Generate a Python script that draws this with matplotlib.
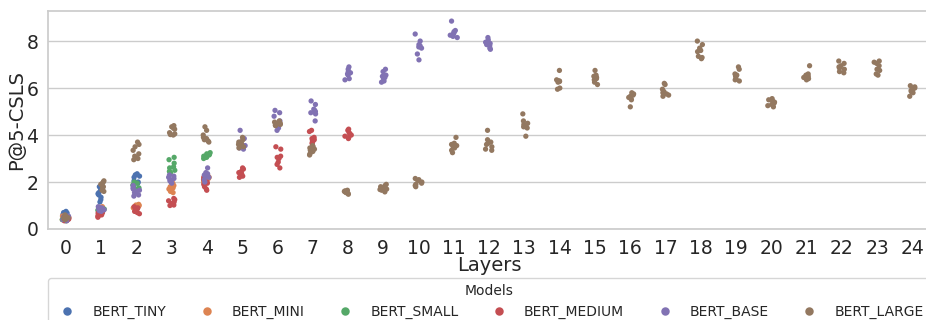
import numpy as np
import pandas as pd
import matplotlib
matplotlib.use("Agg")
import matplotlib.pyplot as plt
import seaborn as sns

models = ["BERT_TINY", "BERT_MINI", "BERT_SMALL", "BERT_MEDIUM", "BERT_BASE", "BERT_LARGE"]

# P@5-CSLS per layer, several runs per layer
bert_tiny = [
    [0.75, 0.68, 0.6, 0.55, 0.5, 0.45, 0.62, 0.7],
    [1.8, 1.7, 1.55, 1.45, 1.35, 1.5, 1.25, 1.15],
    [2.35, 2.3, 2.32, 2.2, 2.05, 1.95, 2.0, 2.25],
]
bert_mini = [
    [0.55, 0.45, 0.4, 0.5, 0.38, 0.48, 0.42, 0.52],
    [0.95, 0.85, 0.9, 0.8, 0.88, 0.75, 0.92, 0.82],
    [1.05, 0.98, 0.9, 0.85, 1.0, 0.95, 0.88, 1.02],
    [1.95, 1.85, 1.75, 1.6, 1.55, 1.7, 1.8, 1.65],
    [2.25, 2.2, 2.1, 2.0, 2.15, 2.05, 2.22, 2.1],
]
bert_small = [
    [0.4, 0.35, 0.45, 0.38, 0.42, 0.5, 0.36, 0.44],
    [0.75, 0.7, 0.8, 0.65, 0.85, 0.72, 0.78, 0.68],
    [2.0, 1.9, 1.85, 1.75, 1.95, 1.8, 1.7, 1.88],
    [3.05, 2.95, 2.8, 2.65, 2.5, 2.4, 2.45, 2.6],
    [3.25, 3.2, 3.15, 3.1, 3.05, 3.0, 3.18, 3.12],
]
bert_medium = [
    [0.45, 0.4, 0.35, 0.5, 0.38, 0.42, 0.48, 0.36],
    [0.7, 0.65, 0.6, 0.55, 0.5, 0.58, 0.62, 0.68],
    [0.95, 0.9, 0.85, 0.8, 0.75, 0.7, 0.65, 0.88],
    [1.3, 1.25, 1.1, 1.05, 1.0, 1.02, 1.15, 1.2],
    [2.2, 2.1, 2.0, 1.9, 1.8, 1.7, 1.65, 1.95],
    [2.6, 2.55, 2.45, 2.4, 2.35, 2.3, 2.25, 2.2],
    [3.5, 3.4, 3.1, 3.05, 3.0, 2.85, 2.75, 2.6],
    [4.2, 4.15, 3.9, 3.85, 3.8, 3.75, 3.7, 3.65],
    [4.25, 4.2, 4.1, 4.05, 4.0, 3.95, 3.9, 3.85],
]
bert_base = [
    [0.55, 0.5, 0.45, 0.4, 0.35, 0.48, 0.42, 0.52],
    [0.95, 0.9, 0.85, 0.82, 0.8, 0.75, 0.88, 0.78],
    [1.85, 1.75, 1.7, 1.65, 1.6, 1.45, 1.4, 1.55],
    [2.3, 2.25, 2.15, 2.1, 2.05, 2.0, 1.95, 2.2],
    [2.6, 2.4, 2.35, 2.3, 2.25, 2.2, 2.1, 2.0],
    [4.2, 3.85, 3.7, 3.6, 3.55, 3.5, 3.45, 3.4],
    [5.05, 4.95, 4.8, 4.6, 4.5, 4.45, 4.3, 4.2],
    [5.45, 5.3, 5.1, 5.05, 5.0, 4.95, 4.9, 4.6],
    [6.9, 6.8, 6.7, 6.65, 6.6, 6.55, 6.4, 6.35],
    [6.8, 6.7, 6.55, 6.5, 6.45, 6.4, 6.3, 6.25],
    [8.3, 8.0, 7.85, 7.8, 7.75, 7.7, 7.45, 7.2],
    [8.85, 8.45, 8.4, 8.35, 8.3, 8.25, 8.2, 8.15],
    [8.15, 8.05, 7.95, 7.9, 7.85, 7.8, 7.7, 7.65],
]
bert_large = [
    [0.6, 0.55, 0.5, 0.45, 0.4, 0.48, 0.52, 0.42],
    [2.05, 2.0, 1.95, 1.9, 1.8, 1.75, 1.65, 1.6],
    [3.7, 3.6, 3.5, 3.35, 3.2, 3.1, 3.0, 2.95],
    [4.4, 4.35, 4.3, 4.1, 4.05, 4.0, 4.02, 4.25],
    [4.35, 4.2, 4.0, 3.9, 3.85, 3.8, 3.75, 3.7],
    [3.9, 3.8, 3.7, 3.65, 3.6, 3.55, 3.5, 3.45],
    [4.6, 4.55, 4.5, 4.48, 4.45, 4.42, 4.4, 4.5],
    [3.55, 3.5, 3.45, 3.4, 3.35, 3.3, 3.2, 3.15],
    [1.65, 1.62, 1.6, 1.6, 1.58, 1.55, 1.52, 1.48],
    [1.9, 1.85, 1.8, 1.75, 1.7, 1.68, 1.65, 1.58],
    [2.15, 2.1, 2.05, 2.0, 1.95, 1.9, 1.85, 1.8],
    [3.9, 3.65, 3.6, 3.55, 3.5, 3.45, 3.35, 3.25],
    [4.2, 3.8, 3.7, 3.65, 3.6, 3.5, 3.4, 3.35],
    [4.9, 4.6, 4.5, 4.45, 4.4, 4.35, 4.3, 3.95],
    [6.75, 6.35, 6.3, 6.3, 6.25, 6.0, 5.95, 6.28],
    [6.75, 6.55, 6.45, 6.4, 6.35, 6.25, 6.15, 6.5],
    [5.8, 5.75, 5.7, 5.65, 5.6, 5.55, 5.5, 5.2],
    [6.2, 6.15, 5.95, 5.85, 5.8, 5.75, 5.7, 5.65],
    [8.0, 7.85, 7.7, 7.6, 7.55, 7.35, 7.3, 7.25],
    [6.9, 6.8, 6.6, 6.55, 6.5, 6.4, 6.35, 6.3],
    [5.55, 5.5, 5.45, 5.4, 5.35, 5.3, 5.25, 5.2],
    [6.95, 6.6, 6.55, 6.5, 6.5, 6.45, 6.4, 6.35],
    [7.15, 7.05, 6.95, 6.9, 6.85, 6.8, 6.7, 6.65],
    [7.15, 7.1, 7.05, 6.95, 6.8, 6.75, 6.6, 6.55],
    [6.1, 6.05, 6.0, 5.95, 5.9, 5.85, 5.8, 5.65],
]

rows = []
for name, layers in zip(models, [bert_tiny, bert_mini, bert_small, bert_medium, bert_base, bert_large]):
    for layer, vals in enumerate(layers):
        for v in vals:
            rows.append({"Layers": layer, "P@5-CSLS": v, "Models": name})
df = pd.DataFrame(rows)

sns.set_theme(style="whitegrid")
plt.rcParams['font.family'] = ['DejaVu Sans']
np.random.seed(3)

fig = plt.figure(figsize=(9.26, 3.2), dpi=100)
ax = fig.add_axes([48 / 926, 91 / 320, 882 / 926, 218 / 320])
sns.stripplot(data=df, x="Layers", y="P@5-CSLS", hue="Models", hue_order=models,
              palette="deep", size=3.8, jitter=0.1, ax=ax)

ax.set_ylim(0, 9.28)
ax.set_xlim(-0.5, 24.5)
ax.set_yticks([0, 2, 4, 6, 8])
ax.tick_params(axis="both", labelsize=13.5, pad=1)
ax.set_xlabel("Layers", fontsize=14, labelpad=-1)
ax.set_ylabel("P@5-CSLS", fontsize=14, labelpad=0)

handles, labels = ax.get_legend_handles_labels()
ax.get_legend().remove()
leg = ax.legend(handles, labels, title="Models", ncol=6, loc="upper left",
                bbox_to_anchor=(0, -0.225), borderaxespad=0, fontsize=10,
                title_fontsize=10, markerscale=1.6, columnspacing=1.92,
                frameon=True)

fig.savefig("out.png", dpi=100)
